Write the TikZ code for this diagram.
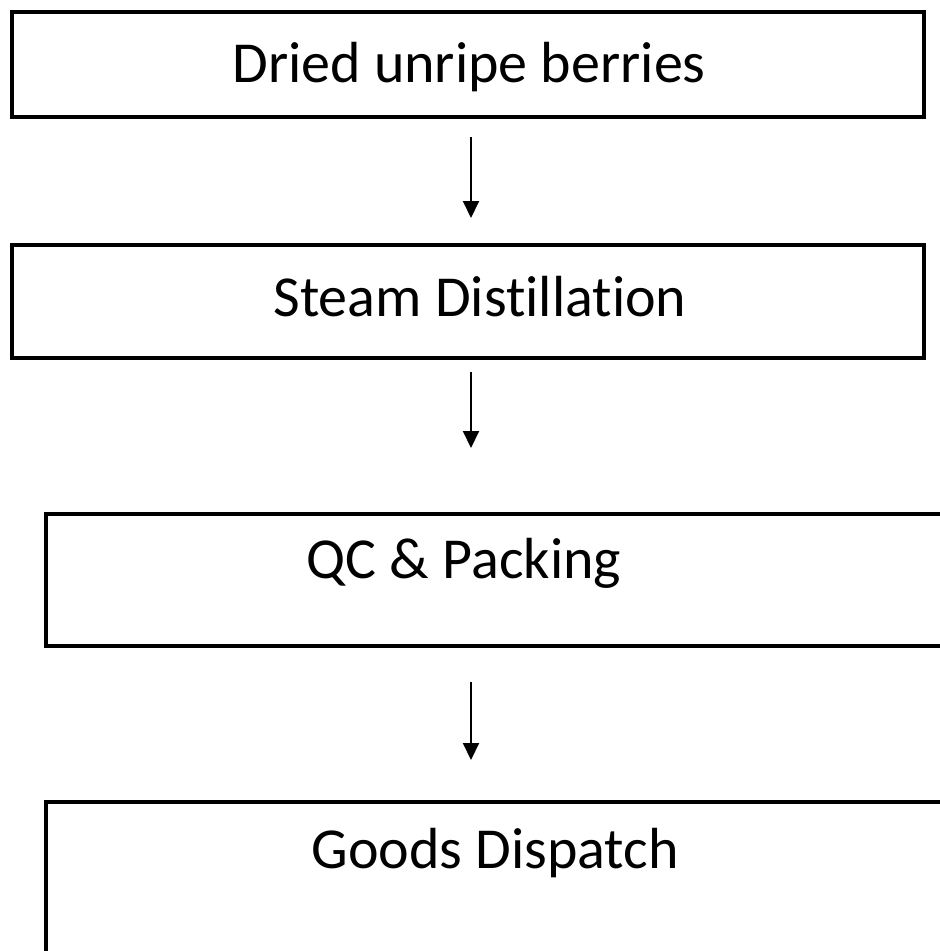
\documentclass[tikz,border=0pt]{standalone}
\usepackage{fontspec}
\setmainfont{Carlito}[Ligatures=NoCommon]
\usetikzlibrary{arrows.meta}

\tikzset{
  stage/.style={draw,rectangle,line width=4pt,inner sep=0pt},
  flow/.style={line width=2pt,-{Triangle[width=16pt,length=17pt]}},
  caption/.style={font=\fontsize{58}{64}\selectfont,inner sep=0pt,anchor=base}
}

\begin{document}
\begin{tikzpicture}[x=1pt,y=-1pt]
  \clip (0,0) rectangle (940,951);
  % process boxes
  \node[stage,minimum width=912pt,minimum height=105pt] (dried) at (468,64.5) {};
  \node[stage,minimum width=912pt,minimum height=113pt] (steam) at (468,301.5) {};
  \node[stage,minimum width=914pt,minimum height=132pt] (qc)    at (503,580) {};
  \node[stage,minimum width=914pt,minimum height=200pt] (goods) at (503,902) {};
  % texts
  \node[caption] (driedtxt) at (469,82)  {Dried unripe berries};
  \node[caption] (steamtxt) at (480,316) {Steam Distillation};
  \node[caption] (qctxt)    at (464,578) {QC \& Packing};
  \node[caption] (goodstxt) at (495,868) {Goods Dispatch};
  % arrow ends
  \coordinate (a1) at (471,137); \coordinate (b1) at (471,218);
  \coordinate (a2) at (471,372); \coordinate (b2) at (471,448);
  \coordinate (a3) at (471,682); \coordinate (b3) at (471,760);
  \path[flow]
    (a1) edge (b1)
    (a2) edge (b2)
    (a3) edge (b3);
\end{tikzpicture}
\end{document}
